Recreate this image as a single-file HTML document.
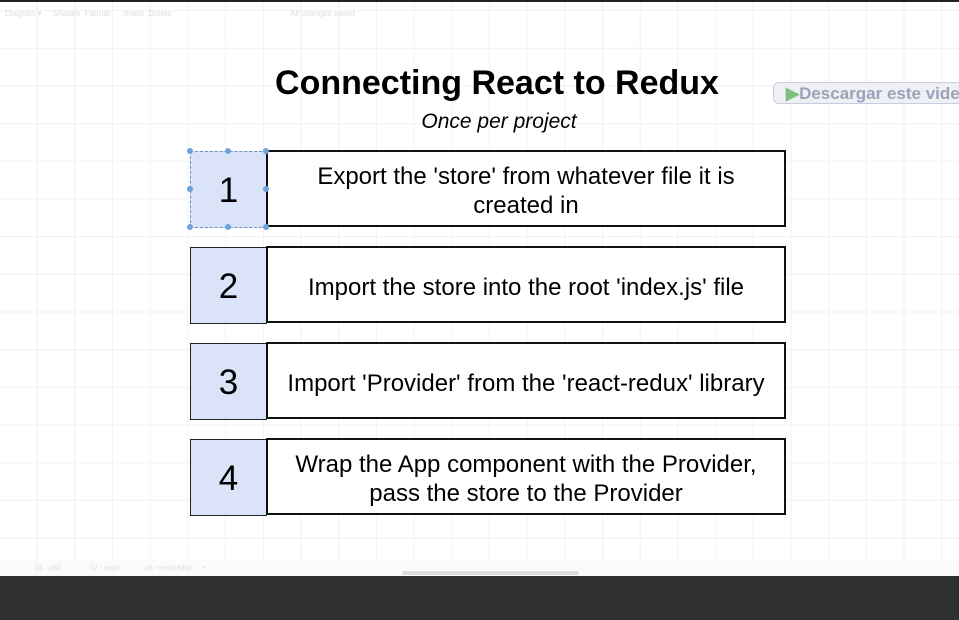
<!DOCTYPE html>
<html><head><style>
body{margin:0;width:959px;height:620px;overflow:hidden;position:relative;font-family:"Liberation Sans",sans-serif;background:#fff;
background-image:linear-gradient(#f1f1f1 1px,transparent 1px),linear-gradient(90deg,#f1f1f1 1px,transparent 1px);background-size:37.7px 37.7px;background-position:-1px 10px}
.a{position:absolute}
.tb{font-size:8px;color:#ddd;top:9px}
.n{position:absolute;left:190px;width:77px;height:77px;background:#dae3f8;border:1px solid #222;box-sizing:border-box;font-size:35px;display:flex;align-items:center;justify-content:center;padding-top:2px}
.t{position:absolute;left:266px;width:520px;height:77px;border:2px solid #111;box-sizing:border-box;background:#fff;font-size:24px;display:flex;align-items:center;justify-content:center;text-align:center;line-height:29px;padding-top:5px}
.h{position:absolute;width:6px;height:6px;border-radius:3px;background:#6fa3d8}
</style></head><body>
<div class="a" style="top:0;left:0;width:959px;height:2px;background:#222"></div>
<div class="a tb" style="left:5px">Diagram ▾</div>
<div class="a tb" style="left:53px">Shapes&nbsp; Format</div>
<div class="a tb" style="left:124px">Insert&nbsp; Delete</div>
<div class="a tb" style="left:290px">All changes saved</div>
<div class="a" style="top:64px;left:0;width:994px;text-align:center;font-size:34px;font-weight:bold">Connecting React to Redux</div>
<div class="a" style="top:110px;left:0;width:998px;text-align:center;font-size:21px;font-style:italic">Once per project</div>
<div class="a" style="left:773px;top:82px;width:200px;height:22px;border:1px solid #c8cde0;border-radius:6px;background:#eef0f6;color:#9aa3b8;font-weight:bold;font-size:17px;line-height:22px;padding-left:12px;box-sizing:border-box"><span style="color:#7cc07c">▶</span>Descargar este vide</div>

<div class="n" style="top:151px;border:1px dashed #6f8fc0">1</div><div class="t" style="top:150px">Export the 'store' from whatever file it is<br>created in</div>
<div class="h" style="left:187px;top:148px"></div><div class="h" style="left:225px;top:148px"></div><div class="h" style="left:263px;top:148px"></div>
<div class="h" style="left:187px;top:186px"></div><div class="h" style="left:263px;top:186px"></div>
<div class="h" style="left:187px;top:224px"></div><div class="h" style="left:225px;top:224px"></div><div class="h" style="left:263px;top:224px"></div>
<div class="n" style="top:247px">2</div><div class="t" style="top:246px">Import the store into the root 'index.js' file</div>
<div class="n" style="top:343px">3</div><div class="t" style="top:342px">Import 'Provider' from the 'react-redux' library</div>
<div class="n" style="top:439px">4</div><div class="t" style="top:438px">Wrap the App component with the Provider,<br>pass the store to the Provider</div>

<div class="a" style="left:0;top:560px;width:959px;height:16px;background:rgba(250,250,250,.8)"></div>
<div class="a" style="left:35px;top:565px;font-size:7px;color:#ddd">01 - add &nbsp;&nbsp;&nbsp;&nbsp;&nbsp;&nbsp;&nbsp;&nbsp;&nbsp;&nbsp;&nbsp;&nbsp;&nbsp; 02 - react &nbsp;&nbsp;&nbsp;&nbsp;&nbsp;&nbsp;&nbsp;&nbsp;&nbsp;&nbsp;&nbsp; 03 - reactredux &nbsp;&nbsp;&nbsp; +</div>
<div class="a" style="left:402px;top:571px;width:177px;height:4px;background:#ddd;border-radius:2px"></div>
<div class="a" style="left:0;top:576px;width:959px;height:44px;background:#2e2f31"></div>
</body></html>
